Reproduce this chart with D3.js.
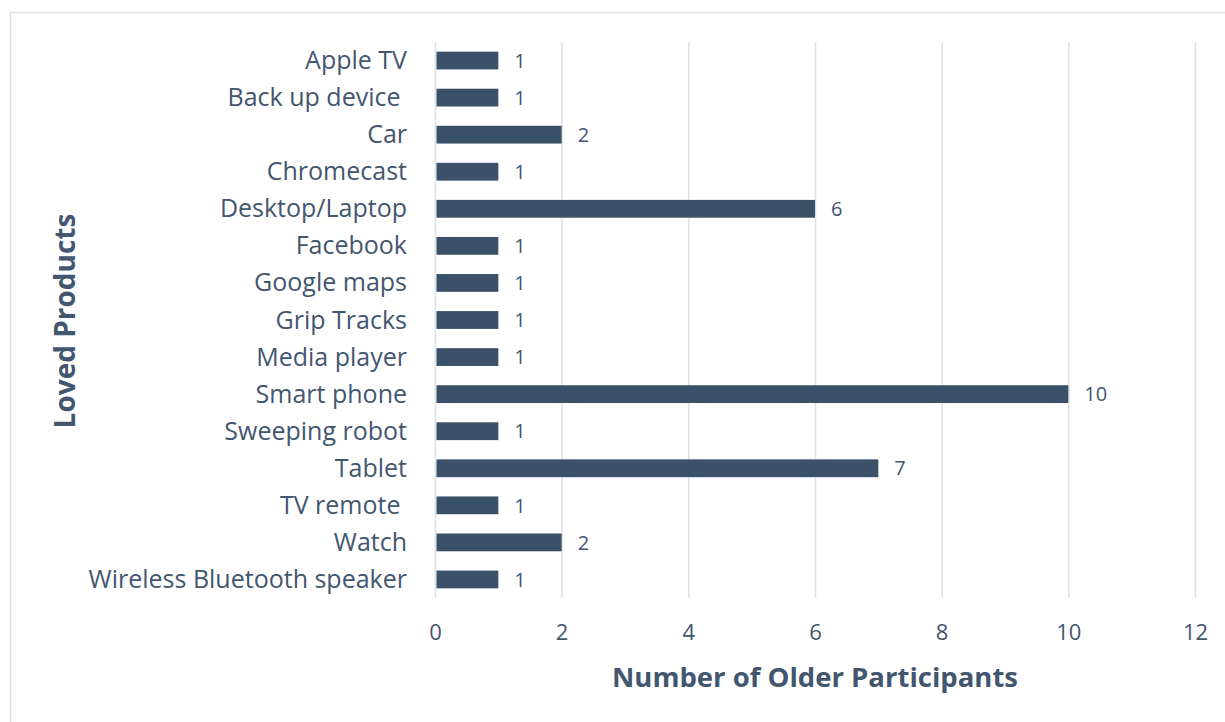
<!DOCTYPE html>
<html>
<head>
<meta charset="utf-8">
<script src="https://cdn.jsdelivr.net/npm/d3@7"></script>
<style>
  html, body { margin: 0; padding: 0; background: #fff; }
  svg { display: block; }
  text { font-family: "Open Sans", "Noto Sans", sans-serif; fill: #435670; white-space: pre; }
</style>
</head>
<body>
<svg id="chart" width="1225" height="722"></svg>
<script>
const categories = [
  "Apple TV", "Back up device ", "Car", "Chromecast", "Desktop/Laptop",
  "Facebook", "Google maps", "Grip Tracks", "Media player", "Smart phone",
  "Sweeping robot", "Tablet", "TV remote ", "Watch", "Wireless Bluetooth speaker"
];
const participants = [1, 1, 2, 1, 6, 1, 1, 1, 1, 10, 1, 7, 1, 2, 1];
const xTicks = [0, 2, 4, 6, 8, 10, 12];

const W = 1225, H = 722;
const margin = { left: 435, right: 30, top: 42, bottom: 124 };
const textColor = "#435670";
const svg = d3.select("#chart");

// chart frame (runs past the right and bottom edges)
svg.append("rect")
  .attr("x", 10.5).attr("y", 12.5)
  .attr("width", W + 20).attr("height", H + 20)
  .attr("fill", "none").attr("stroke", "#dce1e9").attr("stroke-width", 1.5);

const x = d3.scaleLinear().domain([0, 12]).range([margin.left, W - margin.right]);
const y = d3.scaleBand().domain(categories)
  .range([margin.top, H - margin.bottom]).paddingInner(0.52).paddingOuter(0.26);

// vertical gridlines
svg.append("g").selectAll("line").data(xTicks).join("line")
  .attr("x1", d => x(d) + 0.5).attr("x2", d => x(d) + 0.5)
  .attr("y1", margin.top).attr("y2", H - margin.bottom)
  .attr("stroke", "#dce1e9").attr("stroke-width", 1.5);

// bars
svg.append("g").selectAll("rect").data(categories).join("rect")
  .attr("x", x(0) + 1.5)
  .attr("y", d => y(d))
  .attr("width", (d, i) => x(participants[i]) - x(0) - 1.5)
  .attr("height", y.bandwidth())
  .attr("fill", "#3b5069");

// value labels
svg.append("g").selectAll("text").data(categories).join("text")
  .attr("x", (d, i) => x(participants[i]) + 16)
  .attr("y", d => y(d) + y.bandwidth() / 2)
  .attr("dy", "0.36em")
  .attr("font-size", 20)
  .text((d, i) => participants[i]);

// category labels
const yAxis = d3.axisLeft(y).tickSize(0).tickPadding(28);
const gy = svg.append("g").attr("transform", `translate(${x(0)},0)`).call(yAxis);
gy.select(".domain").remove();
gy.selectAll("text").attr("font-size", 25).attr("fill", textColor)
  .attr("font-family", "'Open Sans', 'Noto Sans', sans-serif")
  .attr("dy", "0.34em");

// x tick labels
const xAxis = d3.axisBottom(x).tickValues(xTicks).tickSize(0).tickPadding(26);
const gx = svg.append("g").attr("transform", `translate(0,${H - margin.bottom})`).call(xAxis);
gx.select(".domain").remove();
gx.selectAll("text").attr("font-size", 22).attr("fill", textColor)
  .attr("font-family", "'Open Sans', 'Noto Sans', sans-serif");

// axis titles
svg.append("text")
  .attr("x", (x(0) + x(12)) / 2).attr("y", 687)
  .attr("text-anchor", "middle")
  .attr("font-size", 27.5).attr("font-weight", "bold")
  .text("Number of Older Participants");

svg.append("text")
  .attr("transform", `translate(75,${(margin.top + H - margin.bottom) / 2 + 1}) rotate(-90)`)
  .attr("text-anchor", "middle")
  .attr("font-size", 28).attr("font-weight", "bold")
  .text("Loved Products");
</script>
</body>
</html>
